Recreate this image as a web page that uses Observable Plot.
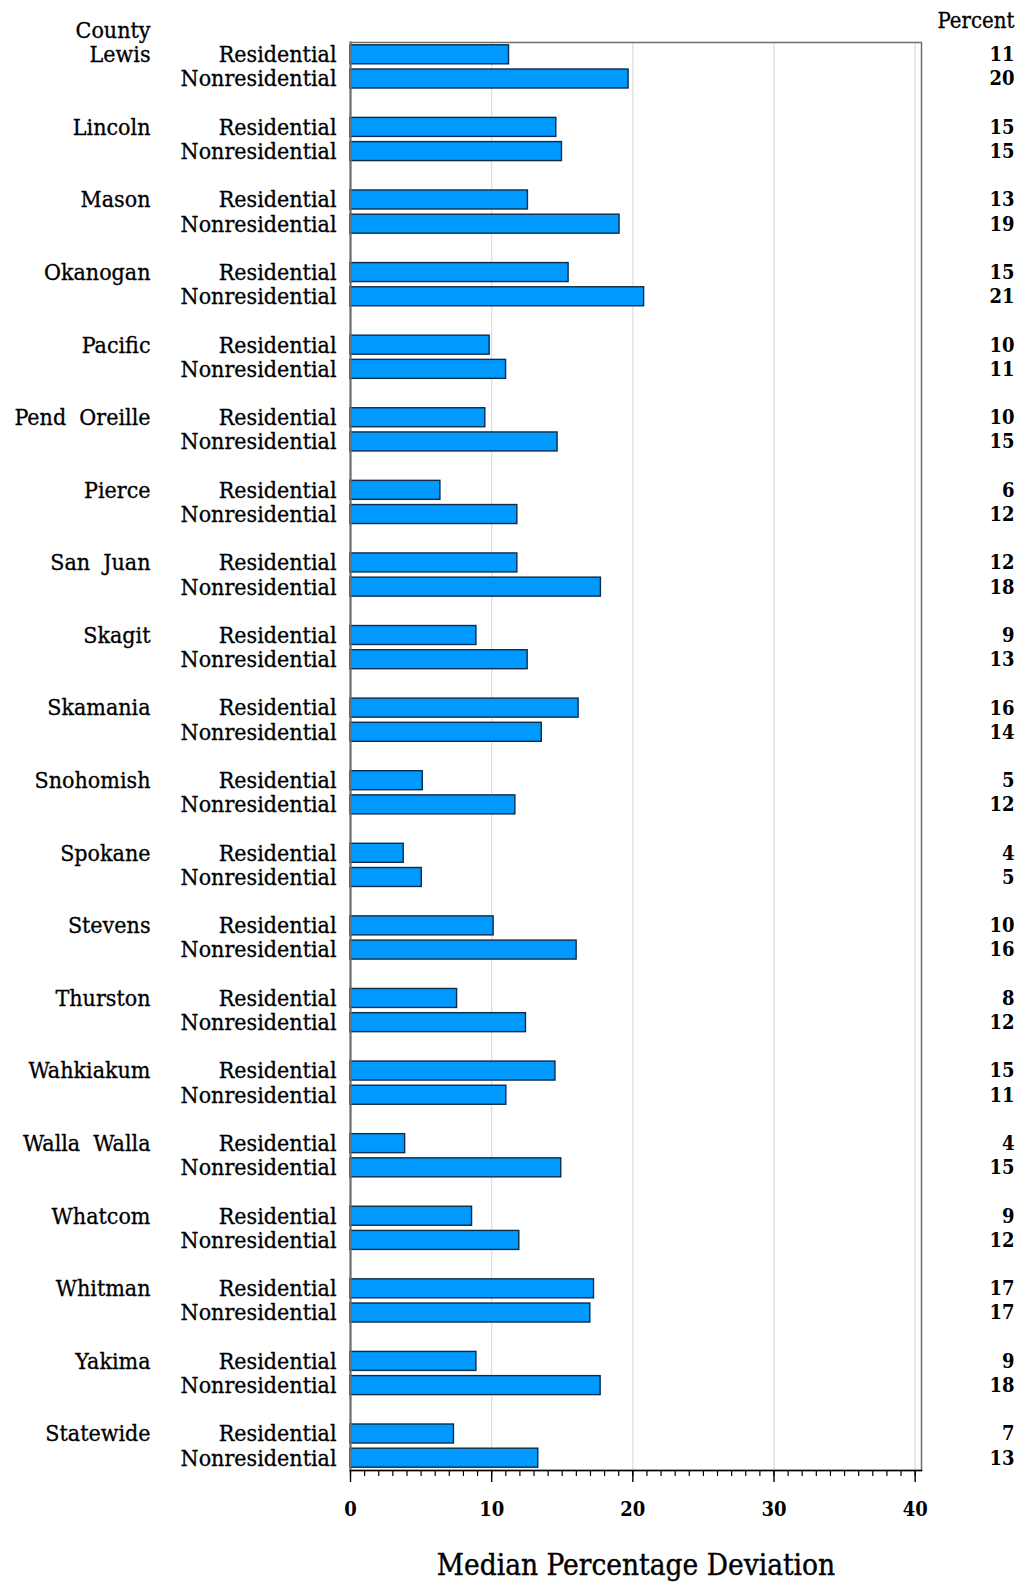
<!DOCTYPE html>
<html>
<head>
<meta charset="utf-8">
<script src="https://cdn.jsdelivr.net/npm/d3@7"></script>
<script src="https://cdn.jsdelivr.net/npm/@observablehq/plot@0.6"></script>
<style>
  body { margin: 0; background: #fff; }
  svg text.lbl, svg text.num, svg g.num text { font-stretch: condensed; }
</style>
</head>
<body>
<div id="chart"></div>
<script>
const counties = ["Lewis", "Lincoln", "Mason", "Okanogan", "Pacific", "Pend  Oreille", "Pierce",
  "San  Juan", "Skagit", "Skamania", "Snohomish", "Spokane", "Stevens", "Thurston", "Wahkiakum",
  "Walla  Walla", "Whatcom", "Whitman", "Yakima", "Statewide"];
const types = ["Residential", "Nonresidential"];
const residential = [11.23, 14.58, 12.57, 15.45, 9.86, 9.55, 6.37, 11.82, 8.92, 16.16,
  5.12, 3.77, 10.14, 7.55, 14.52, 3.87, 8.61, 17.25, 8.92, 7.33];
const nonresidential = [19.7, 14.98, 19.06, 20.8, 11.02, 14.67, 11.82, 17.74, 12.55, 13.55,
  11.68, 5.05, 16.02, 12.43, 11.04, 14.93, 11.96, 16.99, 17.72, 13.3];
const pctRes = [11, 15, 13, 15, 10, 10, 6, 12, 9, 16, 5, 4, 10, 8, 15, 4, 9, 17, 9, 7];
const pctNon = [20, 15, 19, 21, 11, 15, 12, 18, 13, 14, 12, 5, 16, 12, 11, 15, 12, 17, 18, 13];
const majorTicks = [0, 10, 20, 30, 40];
const xLabel = "Median Percentage Deviation";

// build rows (two bars per county, with a blank slot between counties)
const rows = [];
const domain = [];
counties.forEach((c, i) => {
  rows.push({key: i + "R", county: c, type: types[0], value: residential[i], pct: pctRes[i]});
  rows.push({key: i + "N", county: c, type: types[1], value: nonresidential[i], pct: pctNon[i]});
  domain.push(i + "R", i + "N");
  if (i < counties.length - 1) domain.push(i + "G");
});

const labelFont = "'DejaVu Serif Condensed', 'DejaVu Serif', serif";
const lbl = {fill: "#000", stroke: "#000", strokeWidth: 0.3, fontFamily: labelFont, className: "lbl"};

const chart = Plot.plot({
  width: 1021,
  height: 1585,
  marginLeft: 350,
  marginRight: 100,
  marginTop: 42,
  marginBottom: 115,
  style: {fontFamily: labelFont, fontSize: "23px", background: "#fff", color: "#000"},
  x: {domain: [0, 40.45], axis: null},
  y: {domain, axis: null, paddingInner: 0.215, paddingOuter: 0.116, round: false},
  marks: [
    Plot.gridX(majorTicks.slice(1), {stroke: "#dcdcdc", strokeOpacity: 1, strokeWidth: 1.2}),
    Plot.frame({stroke: "#6e6e6e", strokeWidth: 1.5}),
    Plot.barX(rows, {x: "value", y: "key", fill: "#0099ff", stroke: "#0d2c48", strokeWidth: 1.4}),
    Plot.frame({anchor: "bottom", stroke: "#000", strokeWidth: 1.5}),
    Plot.frame({anchor: "left", stroke: "#6e6e6e", strokeWidth: 2}),
    Plot.axisX(d3.range(0, 41, 1), {tickSize: 6, tickFormat: () => "", label: null,
      stroke: "#000", strokeWidth: 1.2}),
    Plot.axisX(majorTicks, {tickSize: 12, tickPadding: 19, label: null, stroke: "#000", strokeWidth: 1.4,
      fontFamily: labelFont, fontWeight: "bold", fontSize: 20, className: "num", tickFormat: d => String(d)}),
    Plot.text(rows, {...lbl, y: "key", text: "type", frameAnchor: "left", dx: -14, textAnchor: "end",
      fontSize: 23}),
    Plot.text(rows.filter(d => d.type === types[0]), {...lbl, y: "key", text: "county", frameAnchor: "left",
      dx: -200, textAnchor: "end", fontSize: 23}),
    Plot.text(rows, {y: "key", text: d => String(d.pct), frameAnchor: "right", dx: 93,
      textAnchor: "end", fontFamily: labelFont, fontWeight: "bold", fontSize: 20, fill: "#000", className: "num"}),
    Plot.text(["County"], {...lbl, frameAnchor: "top-left", dx: -200, dy: -21, textAnchor: "end",
      fontSize: 23}),
    Plot.text(["Percent"], {...lbl, frameAnchor: "top-right", dx: 93, dy: -30, textAnchor: "end",
      fontSize: 22}),
    Plot.text([xLabel], {...lbl, frameAnchor: "bottom", dy: 104, fontSize: 29.5, textAnchor: "middle",
      strokeWidth: 0.4})
  ]
});
document.getElementById("chart").appendChild(chart);
</script>
</body>
</html>
